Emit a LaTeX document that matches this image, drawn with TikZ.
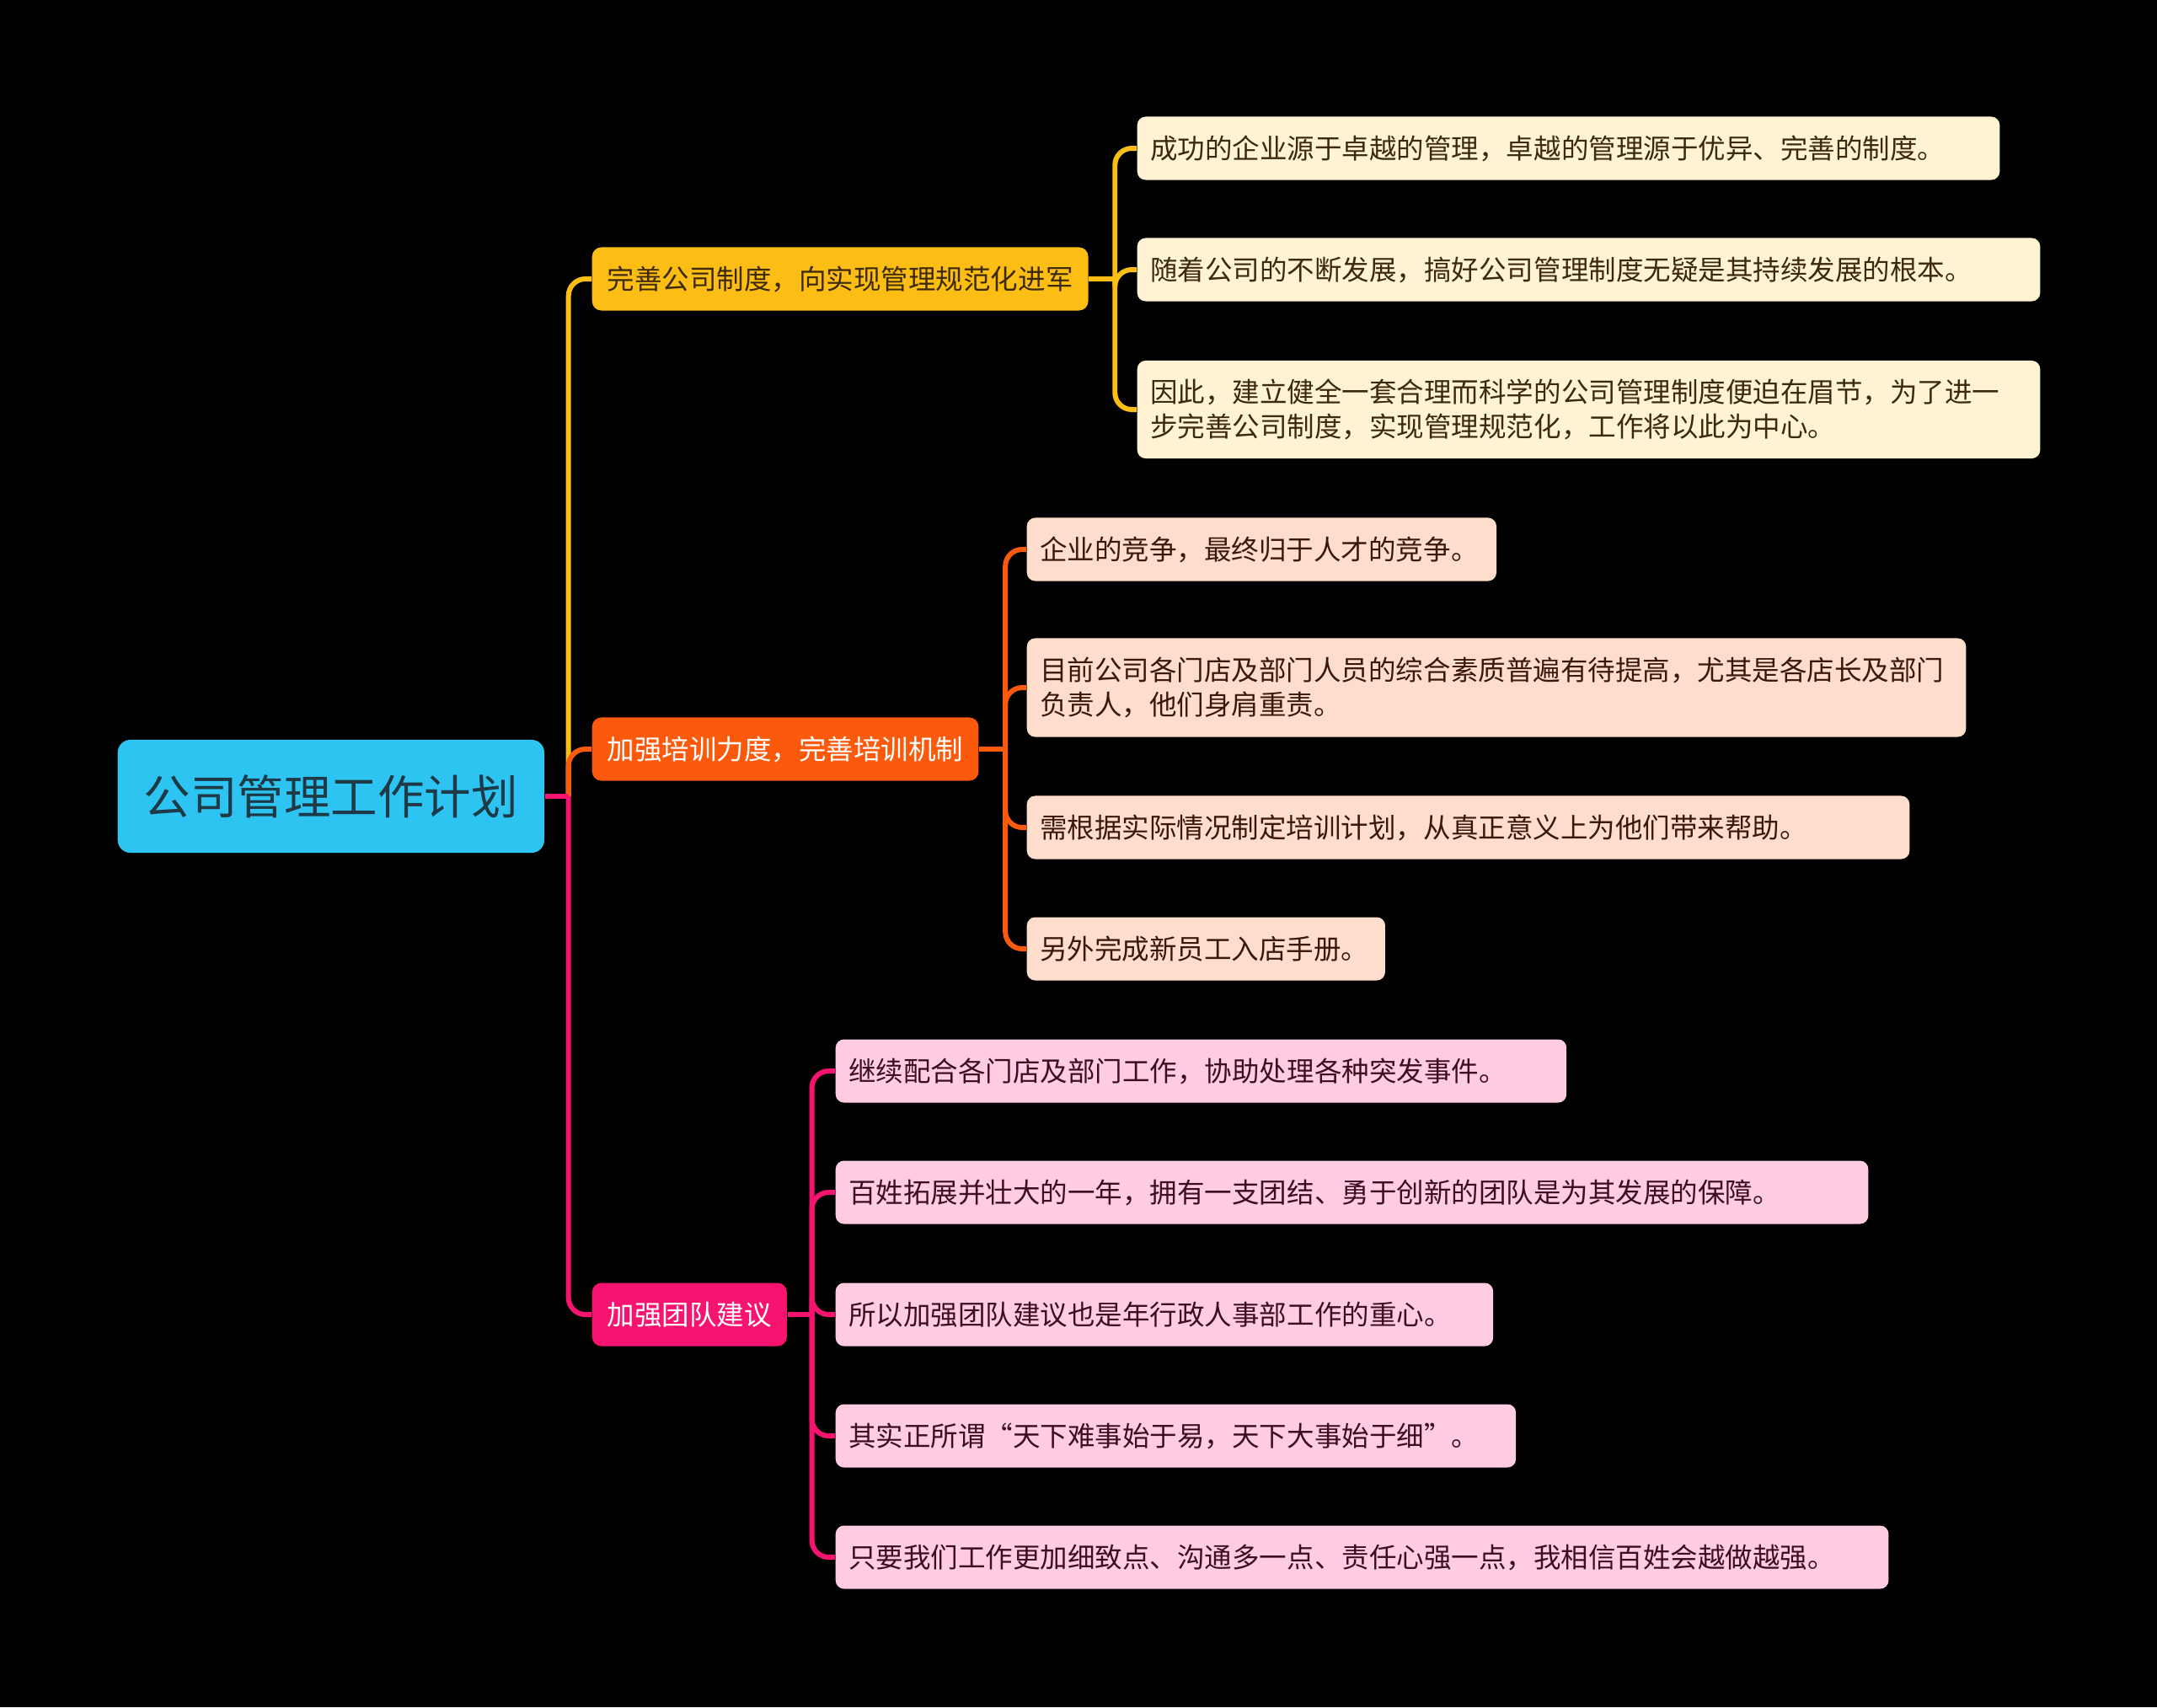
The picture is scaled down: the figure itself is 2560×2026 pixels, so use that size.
\documentclass[tikz,border=0pt]{standalone}
\usepackage{fontspec}
\setmainfont{Noto Sans CJK SC}
\usetikzlibrary{calc}
\definecolor{rootfill}{RGB}{46,196,242}
\definecolor{roottext}{RGB}{30,58,70}
\definecolor{yel}{RGB}{252,190,20}
\definecolor{yelleaf}{RGB}{255,243,210}
\definecolor{yeltext}{RGB}{60,42,10}
\definecolor{ora}{RGB}{251,90,12}
\definecolor{oraleaf}{RGB}{255,221,204}
\definecolor{oratext}{RGB}{58,24,12}
\definecolor{pnk}{RGB}{246,20,112}
\definecolor{pnkleaf}{RGB}{255,204,226}
\definecolor{pnktext}{RGB}{60,14,36}

\begin{document}
\begin{tikzpicture}[
      x=0.01cm, y=-0.01cm,
      root/.style={rectangle, rounded corners=0.15cm, fill=rootfill, text=roottext,
                   minimum width=5.06cm, minimum height=1.34cm, inner sep=0pt,
                   anchor=west, font=\fontsize{0.555cm}{0.66cm}\selectfont},
      topic/.style={rectangle, rounded corners=0.11cm, anchor=west,
                    minimum height=0.75cm, inner xsep=0.18cm, inner ysep=0pt,
                    font=\fontsize{0.325cm}{0.41cm}\selectfont},
      leaf/.style={topic, rounded corners=0.1cm, align=left, inner xsep=0.155cm},
      yleaf/.style={leaf, fill=yelleaf, text=yeltext},
      oleaf/.style={leaf, fill=oraleaf, text=oratext},
      pleaf/.style={leaf, fill=pnkleaf, text=pnktext},
      link/.style={line width=1.7pt, rounded corners=0.2cm}
    ]
    \fill[black] (0,0) rectangle (2560,2026);

    % root and main topics
    \node[root] (root) at (139,945) {公司管理工作计划};
    \node[topic, fill=yel, text=yeltext] (sys) at (702,331)
      {完善公司制度，向实现管理规范化进军};
    \node[topic, fill=ora, text=white] (train) at (702,889)
      {加强培训力度，完善培训机制};
    \node[topic, fill=pnk, text=white] (team) at (702,1560)
      {加强团队建议};

    % leaves of the first topic
    \node[yleaf, text width=9.92cm] (sysA) at (1349,176)
      {成功的企业源于卓越的管理，卓越的管理源于优异、完善的制度。};
    \node[yleaf, text width=10.4cm] (sysB) at (1349,320)
      {随着公司的不断发展，搞好公司管理制度无疑是其持续发展的根本。};
    \node[yleaf, text width=10.4cm, minimum height=1.16cm] (sysC) at (1349,486)
      {因此，建立健全一套合理而科学的公司管理制度便迫在眉节，为了进一\\
       步完善公司制度，实现管理规范化，工作将以此为中心。};

    % leaves of the second topic
    \node[oleaf, text width=5.26cm] (trainA) at (1218,652)
      {企业的竞争，最终归于人才的竞争。};
    \node[oleaf, text width=10.83cm, minimum height=1.17cm] (trainB) at (1218,816)
      {目前公司各门店及部门人员的综合素质普遍有待提高，尤其是各店长及部门\\
       负责人，他们身肩重责。};
    \node[oleaf, text width=10.16cm] (trainC) at (1218,982)
      {需根据实际情况制定培训计划，从真正意义上为他们带来帮助。};
    \node[oleaf, text width=3.94cm] (trainD) at (1218,1126)
      {另外完成新员工入店手册。};

    % leaves of the third topic
    \node[pleaf, text width=8.36cm] (teamA) at (991,1271)
      {继续配合各门店及部门工作，协助处理各种突发事件。};
    \node[pleaf, text width=11.94cm] (teamB) at (991,1415)
      {百姓拓展并壮大的一年，拥有一支团结、勇于创新的团队是为其发展的保障。};
    \node[pleaf, text width=7.49cm] (teamC) at (991,1560)
      {所以加强团队建议也是年行政人事部工作的重心。};
    \node[pleaf, text width=7.76cm] (teamD) at (991,1704)
      {其实正所谓“天下难事始于易，天下大事始于细”。};
    \node[pleaf, text width=12.18cm] (teamE) at (991,1848)
      {只要我们工作更加细致点、沟通多一点、责任心强一点，我相信百姓会越做越强。};

    % joints
    \coordinate (j0) at ($(root.east)+(28,0)$);
    \coordinate (j1) at ($(sys.east)+(31,0)$);
    \coordinate (j2) at ($(train.east)+(31,0)$);
    \coordinate (j3) at ($(team.east)+(29,0)$);

    % root to topics
    \draw[link, yel] (j0) |- (sys.west);
    \draw[link, ora] (j0) |- (train.west);
    \draw[link, pnk] (j0) |- (team.west);
    \draw[link, pnk] (root.east) -- (j0);

    % topics to leaves
    \draw[link, yel] (sys.east) -- (j1);
    \draw[link, yel] (j1) |- (sysA.west);
    \draw[link, yel] (j1) |- (sysB.west);
    \draw[link, yel] (j1) |- (sysC.west);

    \draw[link, ora] (train.east) -- (j2);
    \draw[link, ora] (j2) |- (trainA.west);
    \draw[link, ora] (j2) |- (trainB.west);
    \draw[link, ora] (j2) |- (trainC.west);
    \draw[link, ora] (j2) |- (trainD.west);

    \draw[link, pnk] (team.east) -- (j3);
    \draw[link, pnk] (j3) |- (teamA.west);
    \draw[link, pnk] (j3) |- (teamB.west);
    \draw[link, pnk] (j3) |- (teamC.west);
    \draw[link, pnk] (j3) |- (teamD.west);
    \draw[link, pnk] (j3) |- (teamE.west);
  \end{tikzpicture}
\end{document}
